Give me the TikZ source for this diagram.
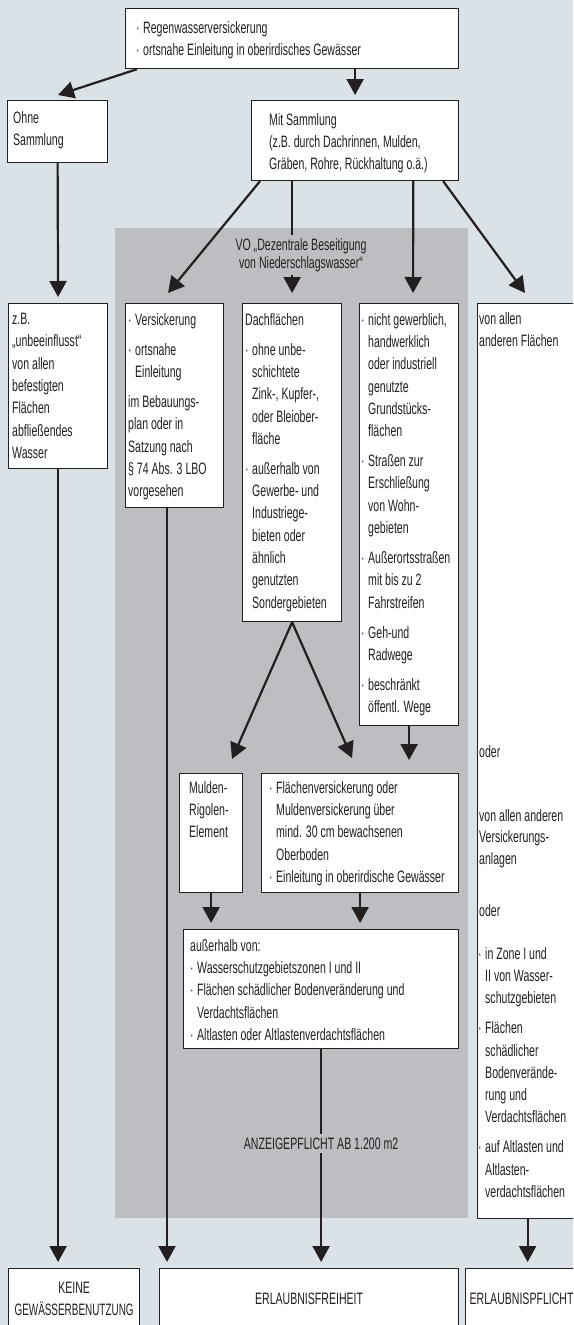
\documentclass[tikz,border=0pt]{standalone}
\usepackage{fontspec}
\setmainfont{Liberation Sans}[FakeStretch=0.64]
\usetikzlibrary{arrows.meta,calc}

\definecolor{bgblue}{RGB}{218,225,231}
\definecolor{vogrey}{RGB}{189,190,194}
\definecolor{ink}{RGB}{35,31,32}
\newcommand{\itm}{\makebox[7pt][l]{·}}
\newcommand{\ind}{\hspace*{7pt}}
\newcommand{\gap}{\\[7.7pt]}

\begin{document}
\begin{tikzpicture}[x=1pt,y=-1pt,
  panel/.style={draw=ink, fill=white, line width=1.2pt, anchor=north west, inner sep=0pt},
  txt/.style={anchor=north west, inner sep=0pt, align=left, text=ink,
    font=\fontsize{16.5pt}{22.3pt}\selectfont, execute at begin node={\rule{0pt}{12pt}}},
  txtc/.style={txt, anchor=north, align=center},
  flow/.style={draw=ink, line width=2.2pt, -{Triangle[width=17pt,length=16pt]}}]

  \useasboundingbox (0,0) rectangle (573,1325);
  \clip (0,0) rectangle (573,1325);
  \fill[bgblue] (0,0) rectangle (573,1325);
  \fill[vogrey] (115,228) rectangle (468,1218);

  \node[panel, minimum width=333pt, minimum height=60pt] (top) at (125,8) {};
  \node[panel, minimum width=100pt, minimum height=62pt] (ohne) at (7,100) {};
  \node[panel, minimum width=207pt, minimum height=80pt] (mit) at (251,100) {};
  \node[panel, minimum width=99pt, minimum height=165pt] (zb) at (8,303) {};
  \node[panel, minimum width=98pt, minimum height=204pt] (vers) at (125,303) {};
  \node[panel, minimum width=99pt, minimum height=318pt] (dach) at (242,303) {};
  \node[panel, minimum width=99pt, minimum height=422pt] (nicht) at (359,303) {};
  \node[panel, minimum width=100pt, minimum height=915pt] (rest) at (477,303) {};
  \node[panel, minimum width=63pt, minimum height=119pt] (mulden) at (179,773) {};
  \node[panel, minimum width=197pt, minimum height=119pt] (flaech) at (261,773) {};
  \node[panel, minimum width=275pt, minimum height=119pt] (aus) at (183,929) {};
  \node[panel, minimum width=131pt, minimum height=70pt] (keine) at (8,1268) {};
  \node[panel, minimum width=299pt, minimum height=70pt] (frei) at (159,1268) {};
  \node[panel, minimum width=120pt, minimum height=70pt] (pflicht) at (465,1268) {};

  \draw[flow] ([xshift=12pt]top.south west) -- ([shift={(51pt,5pt)}]ohne.north west);
  \draw[flow] (mit.north |- top.south) -- ([yshift=5pt]mit.north);
  \draw[flow] (ohne.south) -- ([yshift=6pt]zb.north);
  \draw[flow] ([xshift=9pt]mit.south west) -- ([shift={(43pt,10pt)}]vers.north west);
  \draw[flow] (dach.north |- mit.south) -- ([yshift=10pt]dach.north);
  \draw[flow] ([xshift=-46pt]mit.south east) -- ([shift={(4pt,10pt)}]nicht.north);
  \draw[flow] ([xshift=-16pt]mit.south east) -- ([shift={(48pt,10pt)}]rest.north west);
  \draw[flow] ([xshift=42pt]vers.south west) -- ([shift={(8pt,6pt)}]frei.north west);
  \draw[flow] (dach.south) -- ([shift={(53pt,14pt)}]mulden.north west);
  \draw[flow] (dach.south) -- ([shift={(91pt,15pt)}]flaech.north west);
  \draw[flow] (nicht.south) -- ($(nicht.south |- flaech.north)+(0,-13)$);
  \draw[flow] (mulden.south) -- ($(mulden.south |- aus.north)+(0,-6)$);
  \draw[flow] (flaech.south) -- ($(flaech.south |- aus.north)+(0,-6)$);
  \draw[flow] (aus.south) -- ($(aus.south |- frei.north)+(0,-6)$);
  \draw[flow] (zb.south) -- ($(zb.south |- keine.north)+(0,-6)$);
  \draw[flow] (rest.south) -- ($(rest.south |- pflicht.north)+(0,-6)$);

  \node[txtc, fill=vogrey, inner xsep=3pt, inner ysep=3pt, font=\fontsize{16.5pt}{18pt}\selectfont] (vo)
    at (301,235) {VO „Dezentrale Beseitigung\\von Niederschlagswasser“};
  \node[txtc, fill=vogrey, inner xsep=4pt, inner ysep=3pt] (anz)
    at ([yshift=-85pt]aus.south) {ANZEIGEPFLICHT AB 1.200 m2};

  \node[txt] at ([shift={(11pt,-13pt)}]top.north west)
    {\itm Regenwasserversickerung\\\itm ortsnahe Einleitung in oberirdisches Gewässer};
  \node[txt] at ([shift={(6pt,-11pt)}]ohne.north west) {Ohne\\Sammlung};
  \node[txt] at ([shift={(18pt,-13pt)}]mit.north west)
    {Mit Sammlung\\(z.B. durch Dachrinnen, Mulden,\\Gräben, Rohre, Rückhaltung o.ä.)};
  \node[txt] at ([shift={(4pt,-10pt)}]zb.north west)
    {z.B.\\„unbeeinflusst“\\von allen\\befestigten\\Flächen\\abfließendes\\Wasser};
  \node[txt] at ([shift={(3pt,-10pt)}]vers.north west)
    {\itm Versickerung\gap
     \itm ortsnahe\\\ind Einleitung\gap
     im Bebauungs-\\plan oder in\\Satzung nach\\§ 74 Abs. 3 LBO\\vorgesehen};
  \node[txt] at ([shift={(3pt,-10pt)}]dach.north west)
    {Dachflächen\gap
     \itm ohne unbe-\\\ind schichtete\\\ind Zink-, Kupfer-,\\\ind oder Bleiober-\\\ind fläche\gap
     \itm außerhalb von\\\ind Gewerbe- und\\\ind Industriege-\\\ind bieten oder\\\ind ähnlich\\\ind genutzten\\\ind Sondergebieten};
  \node[txt] at ([shift={(2pt,-10pt)}]nicht.north west)
    {\itm nicht gewerblich,\\\ind handwerklich\\\ind oder industriell\\\ind genutzte\\\ind Grundstücks-\\\ind flächen\gap
     \itm Straßen zur\\\ind Erschließung\\\ind von Wohn-\\\ind gebieten\gap
     \itm Außerortsstraßen\\\ind mit bis zu 2\\\ind Fahrstreifen\gap
     \itm Geh-und\\\ind Radwege\gap
     \itm beschränkt\\\ind öffentl. Wege};
  \node[txt] at ([shift={(2pt,-9pt)}]rest.north west) {von allen\\anderen Flächen};
  \node[txt] at ([shift={(2pt,-442pt)}]rest.north west) {oder};
  \node[txt, font=\fontsize{16.5pt}{21.5pt}\selectfont] at ([shift={(2pt,-506pt)}]rest.north west)
    {von allen anderen\\Versickerungs-\\anlagen};
  \node[txt] at ([shift={(2pt,-601pt)}]rest.north west) {oder};
  \node[txt] at ([shift={(1pt,-644pt)}]rest.north west)
    {\itm in Zone I und\\\ind II von Wasser-\\\ind schutzgebieten\gap
     \itm Flächen\\\ind schädlicher\\\ind Bodenverände-\\\ind rung und\\\ind Verdachtsflächen\gap
     \itm auf Altlasten und\\\ind Altlasten-\\\ind verdachtsflächen};
  \node[txt] at ([shift={(10pt,-8pt)}]mulden.north west) {Mulden-\\Rigolen-\\Element};
  \node[txt] at ([shift={(8pt,-8pt)}]flaech.north west)
    {\itm Flächenversickerung oder\\\ind Muldenversickerung über\\\ind mind. 30 cm bewachsenen\\\ind Oberboden\\\itm Einleitung in oberirdische Gewässer};
  \node[txt] at ([shift={(7pt,-10pt)}]aus.north west)
    {außerhalb von:\\\itm Wasserschutzgebietszonen I und II\\\itm Flächen schädlicher Bodenveränderung und\\\ind Verdachtsflächen\\\itm Altlasten oder Altlastenverdachtsflächen};
  \node[txtc] at ([yshift=-14pt]keine.north) {KEINE\\\scalebox{0.94}[1]{GEWÄSSERBENUTZUNG}};
  \node[txtc] at ([yshift=-24pt]frei.north) {ERLAUBNISFREIHEIT};
  \node[txtc] at ([shift={(-4pt,-24pt)}]pflicht.north) {ERLAUBNISPFLICHT};
\end{tikzpicture}
\end{document}
